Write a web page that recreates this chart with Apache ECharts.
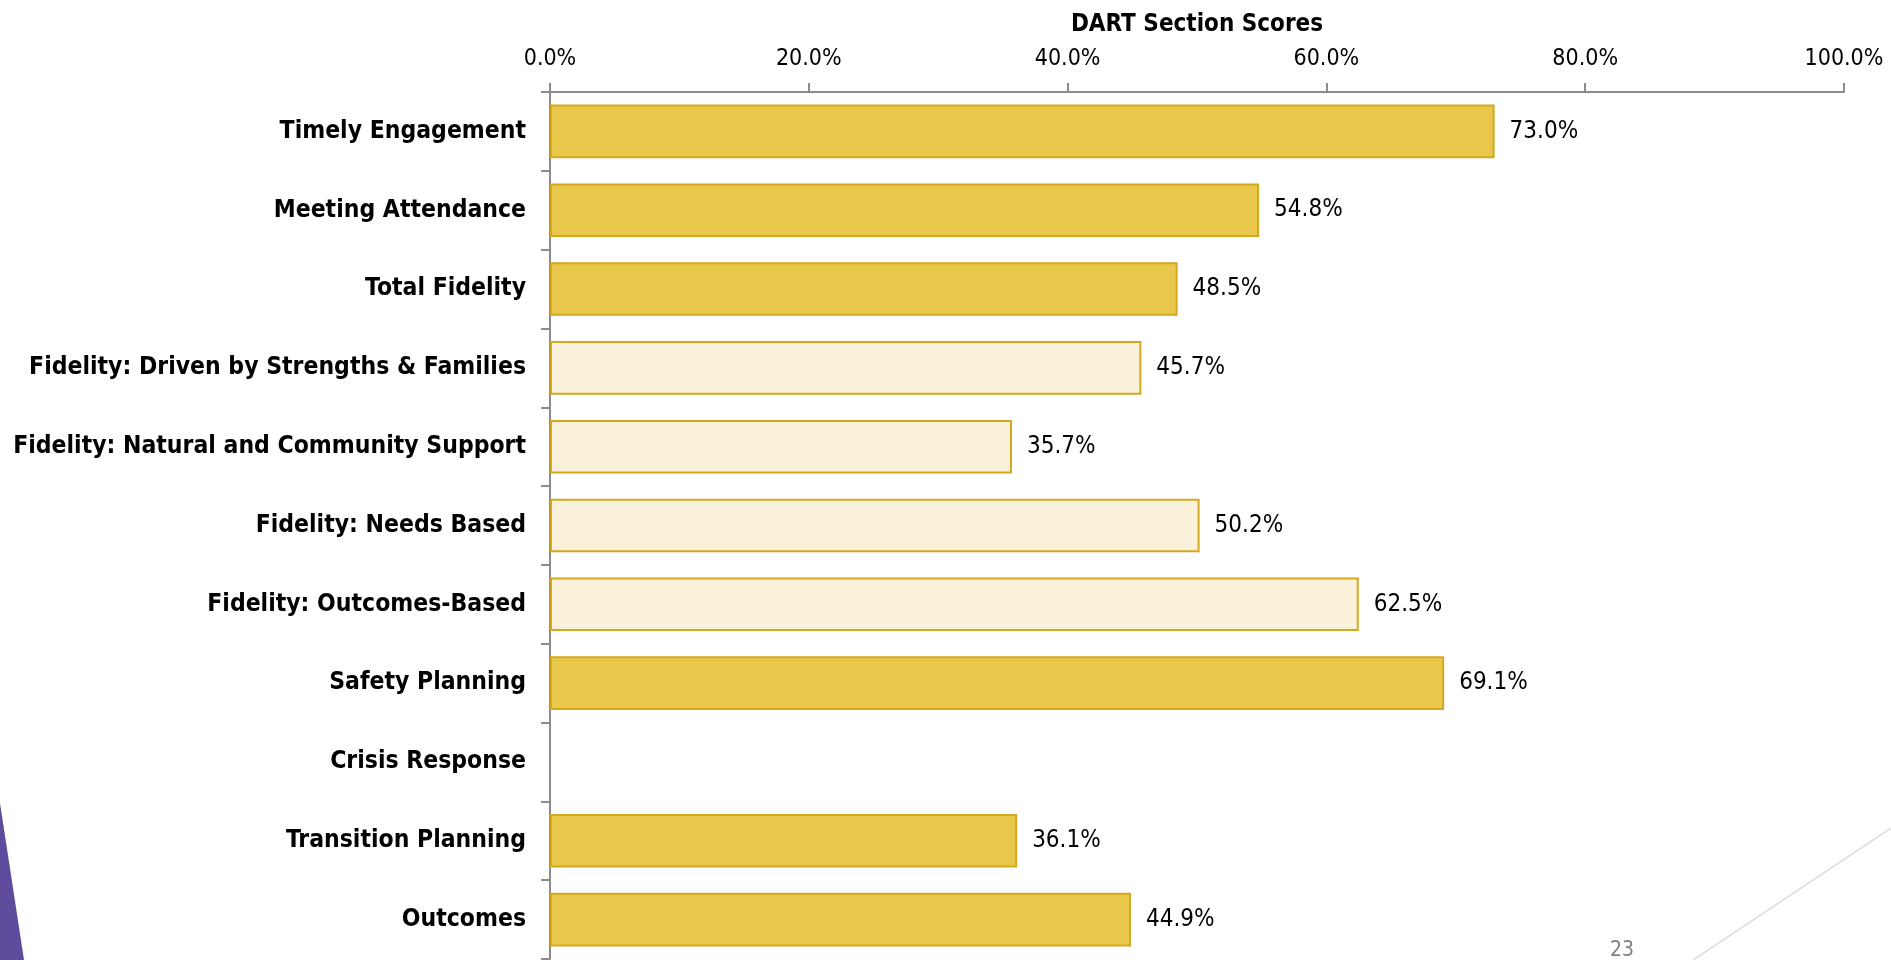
<!DOCTYPE html>
<html>
<head>
<meta charset="utf-8">
<title>DART Section Scores</title>
<script src="https://cdn.jsdelivr.net/npm/echarts@6/dist/echarts.min.js"></script>
<style>
  html, body { margin: 0; padding: 0; background: #fff; }
  #main { width: 1891px; height: 960px; }
</style>
</head>
<body>
<div id="main"></div>
<script>
// categories, top to bottom
var categories = [
    'Timely Engagement',
    'Meeting Attendance',
    'Total Fidelity',
    'Fidelity: Driven by Strengths & Families',
    'Fidelity: Natural and Community Support',
    'Fidelity: Needs Based',
    'Fidelity: Outcomes-Based',
    'Safety Planning',
    'Crisis Response',
    'Transition Planning',
    'Outcomes'
];
// scores in percent (Crisis Response has no bar)
var scores = [73.0, 54.8, 48.5, 45.7, 35.7, 50.2, 62.5, 69.1, null, 36.1, 44.9];
// fidelity sub-sections are drawn light
var isSubSection = [false, false, false, true, true, true, true, false, false, false, false];
var tickValues = [0, 20, 40, 60, 80, 100];

var FONT = '"DejaVu Sans Condensed", "DejaVu Sans", sans-serif';

var barData = [];
for (var i = 0; i < scores.length; i++) {
    barData.push({
        value: scores[i],
        itemStyle: {
            color: isSubSection[i] ? '#FAF1DB' : '#E9C74B',
            borderColor: '#D4A81E',
            borderWidth: 2
        }
    });
}

var myChart = echarts.init(document.getElementById('main'));
var option = {
    backgroundColor: '#ffffff',
    animation: false,
    title: {
        text: 'DART Section Scores',
        left: 1192,
        textAlign: 'center',
        top: 8,
        textStyle: {
            fontFamily: FONT,
            fontWeight: 'bold',
            fontSize: 24,
            color: '#000'
        }
    },
    grid: {
        left: 550,
        right: 47,
        top: 92,
        bottom: 1,
        containLabel: false
    },
    xAxis: {
        type: 'value',
        position: 'top',
        min: tickValues[0],
        max: tickValues[tickValues.length - 1],
        interval: 20,
        splitLine: { show: false },
        axisLine: { show: true, lineStyle: { color: '#8c8c8c', width: 2 } },
        axisTick: { show: true, length: 9, lineStyle: { color: '#8c8c8c', width: 2 } },
        axisLabel: {
            margin: 21,
            fontFamily: FONT,
            fontSize: 23,
            color: '#000',
            formatter: function (v) { return v.toFixed(1) + '%'; }
        }
    },
    yAxis: {
        type: 'category',
        inverse: true,
        data: categories,
        axisLine: { show: true, lineStyle: { color: '#8c8c8c', width: 2 } },
        axisTick: { show: true, length: 9, lineStyle: { color: '#8c8c8c', width: 2 } },
        axisLabel: {
            margin: 24,
            fontFamily: FONT,
            fontWeight: 'bold',
            fontSize: 24.5,
            color: '#000'
        }
    },
    series: [
        {
            name: 'DART Section Scores',
            type: 'bar',
            barWidth: '68%',
            data: barData,
            label: {
                show: true,
                position: 'right',
                distance: 15,
                fontFamily: FONT,
                fontSize: 24,
                color: '#000',
                formatter: function (p) {
                    return p.value == null ? '' : p.value.toFixed(1) + '%';
                }
            }
        }
    ],
    graphic: [
        // purple slide accent, bottom left
        {
            type: 'polygon',
            shape: { points: [[0, 803], [24, 960], [0, 960]] },
            style: { fill: '#5F4B9C' },
            silent: true
        },
        // thin slide line, bottom right
        {
            type: 'line',
            shape: { x1: 1693, y1: 960, x2: 1891, y2: 828 },
            style: { stroke: '#d9d9d9', lineWidth: 1.5 },
            silent: true
        },
        // page number
        {
            type: 'text',
            left: 1610,
            top: 940,
            style: {
                text: '23',
                fontFamily: FONT,
                fontSize: 21,
                fill: '#7f7f7f'
            },
            silent: true
        }
    ]
};
if (option && typeof option === "object") {
    myChart.setOption(option, true);
}
</script>
</body>
</html>
